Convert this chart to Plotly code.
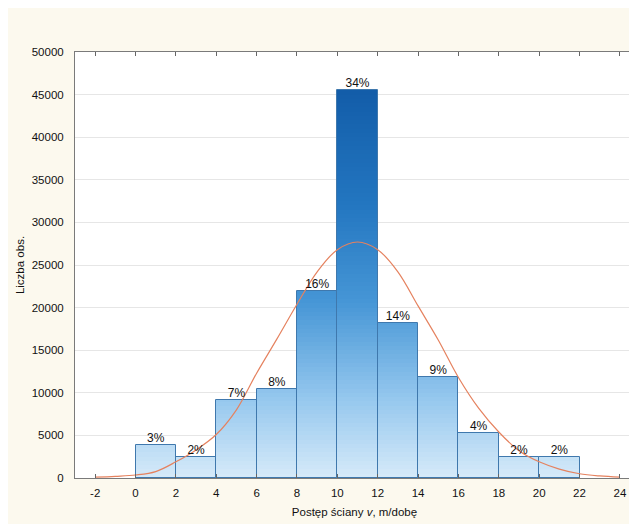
import plotly.graph_objects as go
import numpy as np

# ---- data ----
bin_left = [0, 2, 4, 6, 8, 10, 12, 14, 16, 18, 20]
bin_width = 2
counts = [3900, 2500, 9100, 10500, 22000, 45500, 18250, 11800, 5250, 2500, 2500]
pct_labels = ["3%", "2%", "7%", "8%", "16%", "34%", "14%", "9%", "4%", "2%", "2%"]

curve_x = [-2, -1, 0, 1, 2, 3, 4, 5, 6, 7, 8, 9, 10, 11, 12, 13, 14, 15, 16, 17, 18, 19, 20, 21, 22, 23, 24]
curve_y = [100, 200, 350, 750, 1900, 3300, 5100, 8000, 12300, 16300, 20400, 24200, 26800, 27700,
           26800, 24200, 20200, 16200, 11800, 8200, 5400, 3200, 1900, 1050, 500, 240, 100]

x_ticks = [-2, 0, 2, 4, 6, 8, 10, 12, 14, 16, 18, 20, 22, 24]
x_tick_text = ["-2", "0", "2", "4", "6", "8", "10", "12", "14", "16", "18", "20", "22", "24"]
y_ticks = [0, 5000, 10000, 15000, 20000, 25000, 30000, 35000, 40000, 45000, 50000]
y_tick_text = ["0", "5000", "10000", "15000", "20000", "25000", "30000", "35000", "40000", "45000", "50000"]

x_title = "Postęp ściany <i>v</i>, m/dobę"
y_title = "Liczba obs."

# ---- styling ----
font_family = "Liberation Sans, Arial, sans-serif"
paper_bg = "#fcf9ee"
y_max = 50000
band = 500

# colour gradient by absolute height (light at bottom, dark at top)
stops = [(0.0, (214, 234, 249)), (0.2, (150, 200, 238)), (0.45, (70, 150, 214)),
         (0.7, (35, 118, 192)), (1.0, (18, 92, 168))]


def grad(t):
    for (t0, c0), (t1, c1) in zip(stops[:-1], stops[1:]):
        if t <= t1:
            f = (t - t0) / (t1 - t0)
            return "rgb(%d,%d,%d)" % tuple(round(a + (b - a) * f) for a, b in zip(c0, c1))
    return "rgb(%d,%d,%d)" % stops[-1][1]


centers = [l + bin_width / 2 for l in bin_left]
fig = go.Figure()

top = max(counts)
nb = int(np.ceil(top / band))
for k in range(nb):
    lo = k * band
    seg = [min(max(c - lo, 0), band) for c in counts]
    if not any(seg):
        continue
    fig.add_trace(go.Bar(
        x=centers, y=seg, base=[lo] * len(seg), width=bin_width,
        marker=dict(color=grad((lo + band / 2) / 46000), line=dict(width=0)),
        hoverinfo="skip", showlegend=False))

# outline
fig.add_trace(go.Bar(
    x=centers, y=counts, width=bin_width,
    marker=dict(color="rgba(0,0,0,0)", line=dict(color="#3f78ad", width=1)),
    showlegend=False))

# fitted curve
fig.add_trace(go.Scatter(
    x=curve_x, y=curve_y, mode="lines", line=dict(color="#e5825f", width=1.2, shape="spline"),
    showlegend=False, hoverinfo="skip"))

# percentage labels
fig.add_trace(go.Scatter(
    x=centers, y=counts, mode="text", text=pct_labels, textposition="top center",
    textfont=dict(family=font_family, size=12, color="#111111"),
    showlegend=False, hoverinfo="skip", cliponaxis=False))

fig.update_layout(
    width=629, height=516,
    margin=dict(l=67, r=3, t=44, b=46),
    paper_bgcolor=paper_bg, plot_bgcolor="white",
    barmode="overlay", bargap=0,
    font=dict(family=font_family, size=11.5, color="#111111"),
    xaxis=dict(range=[-3, 24.7], tickmode="array", tickvals=x_ticks, ticktext=x_tick_text,
               ticks="inside", ticklen=4, tickcolor="#666666", mirror="ticks",
               showline=True, linecolor="#7a7a7a", linewidth=1, automargin=False,
               showgrid=False, zeroline=False, ticklabelstandoff=4,
               title=dict(text=x_title, font=dict(size=11.5), standoff=10)),
    yaxis=dict(range=[0, y_max], tickmode="array", tickvals=y_ticks, ticktext=y_tick_text,
               ticks="", showline=True, linecolor="#7a7a7a", linewidth=1, automargin=False,
               showgrid=True, gridcolor="#e6e6e6", gridwidth=1, zeroline=False,
               ticklabelstandoff=8,
               title=dict(text=y_title, font=dict(size=11.5), standoff=4)),
    shapes=[dict(type="line", xref="paper", yref="paper", x0=1, x1=1, y0=0, y1=1,
                 line=dict(color="#e3e3e3", width=1))],
)

fig.write_html("out.html")
